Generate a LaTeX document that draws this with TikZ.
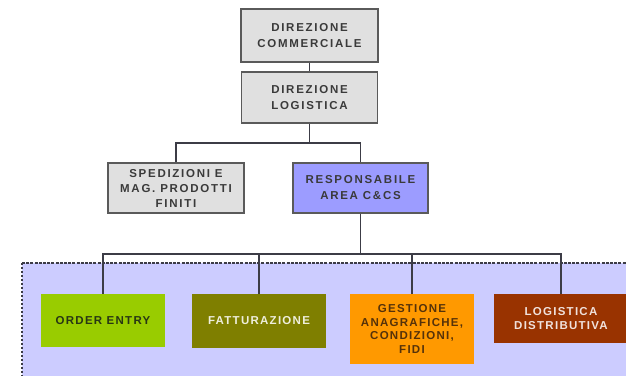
\documentclass[tikz,border=0pt]{standalone}
\usepackage{fontspec}
\newfontfamily\topfont[LetterSpace=15]{Liberation Sans Bold}
\newfontfamily\lowfont[LetterSpace=11]{Liberation Sans Bold}
\definecolor{boxgray}{HTML}{E0E0E0}
\definecolor{edgegray}{HTML}{5A5A5A}
\definecolor{linegray}{HTML}{3C3C46}
\definecolor{resp}{HTML}{9C9CFF}
\definecolor{area}{HTML}{CCCCFF}
\definecolor{oegreen}{HTML}{99CC00}
\definecolor{olive}{HTML}{7F7F00}
\definecolor{orangeb}{HTML}{FF9900}
\definecolor{brownb}{HTML}{993300}
\definecolor{txtdark}{HTML}{3A3A3A}
\begin{document}
\begin{tikzpicture}[x=1pt,y=-1pt,
  topbox/.style={draw=edgegray,line width=1.3pt,fill=boxgray,minimum width=#1,
    text=txtdark,align=center,inner sep=0pt,
    font=\topfont\fontsize{11.5}{16}\selectfont},
  topbox/.default=136pt,
  lowbox/.style={fill=#1,inner sep=0pt,align=center,
    font=\lowfont\fontsize{11.5}{13.4}\selectfont},
  conn/.style={draw=linegray,line width=1.3pt}
]
\useasboundingbox (0,0) rectangle (626,375);
% shaded area
\fill[area] (22,263) rectangle (630,380);
\draw[linegray,line width=1.5pt,dash pattern=on 3pt off 1.2pt] (22,263) -- (630,263);
\draw[linegray,line width=1.5pt,dash pattern=on 2pt off 2pt] (22,263) -- (22,380);
% top boxes
\node[topbox=137pt,minimum height=53pt] (dc) at (309.5,35.5) {DIREZIONE\\COMMERCIALE};
\node[topbox,minimum height=51pt] (dl) at (309.5,97.5) {DIREZIONE\\LOGISTICA};
\node[topbox,minimum height=50pt,font=\topfont\fontsize{11.5}{15}\selectfont] (sp) at (176,188) {SPEDIZIONI E\\MAG. PRODOTTI\\FINITI};
\node[topbox=135pt,minimum height=50pt,fill=resp] (re) at (360.5,188) {RESPONSABILE\\AREA C\&CS};
% bottom boxes
\node[lowbox=oegreen,minimum width=124pt,minimum height=53pt,text={rgb,255:red,40;green,55;blue,20}] (oe) at (103,320.5) {ORDER ENTRY};
\node[lowbox=olive,minimum width=134pt,minimum height=54pt,text={rgb,255:red,238;green,238;blue,220}] (fa) at (259,321) {FATTURAZIONE};
\node[lowbox=orangeb,minimum width=124pt,minimum height=70pt,text={rgb,255:red,85;green,50;blue,10}] (ge) at (412,329) {GESTIONE\\ANAGRAFICHE,\\CONDIZIONI,\\FIDI};
\node[lowbox=brownb,minimum width=134pt,minimum height=49pt,text={rgb,255:red,240;green,225;blue,220}] (lo) at (561,318.5) {LOGISTICA\\DISTRIBUTIVA};
% connectors
\coordinate (bus1) at (309.5,143);
\coordinate (bus2) at (360.5,254);
\draw[conn] (dc.south) -- (dl.north);
\draw[conn] (dl.south) -- (bus1);
\draw[conn] (sp.north) |- (bus1);
\draw[conn] (re.north) |- (bus1);
\draw[conn] (re.south) -- (bus2);
\draw[conn] (oe.north) |- (bus2);
\draw[conn] (fa.north) |- (bus2);
\draw[conn] (ge.north) |- (bus2);
\draw[conn] (lo.north) |- (bus2);
\end{tikzpicture}
\end{document}
